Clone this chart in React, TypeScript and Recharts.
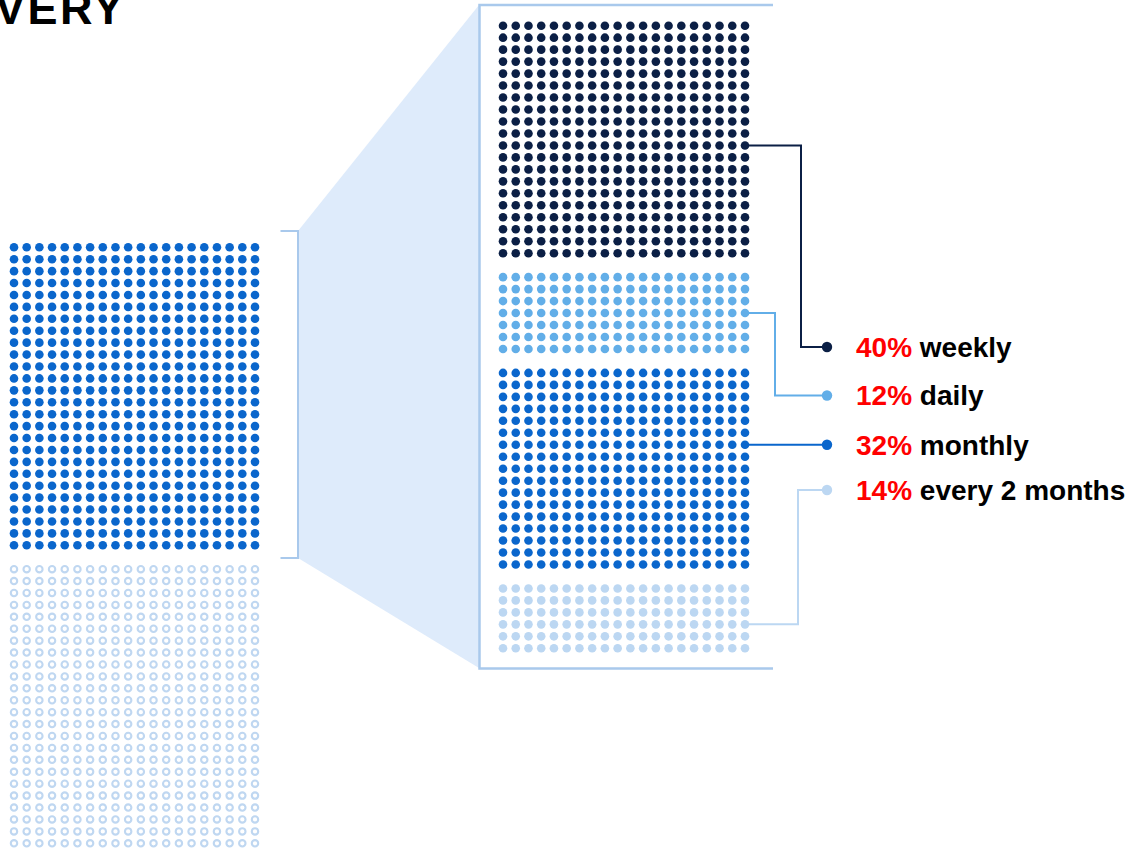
import React from 'react';
import { ScatterChart, Scatter, XAxis, YAxis } from 'recharts';

// ---------- data ----------
const COLS = 20; // dots per row in both grids

// overview grid (left): highlighted block, then remaining block
const overviewGroups = ['highlighted', 'rest'];
const overviewRows = [26, 24];

// zoomed grid (right)
const frequencies = ['weekly', 'daily', 'monthly', 'every 2 months'];
const shares = [40, 12, 32, 14];
const frequencyRows = [20, 7, 17, 6];
const connectorRow = [10, 3, 6, 3];

// ---------- style / layout ----------
const W = 1130;
const H = 852;
const FREQ_COLORS = ['#0b1f45', '#62aee8', '#0a66cc', '#bcd7f2'];
const OVERVIEW_FILL = '#0a66cc';
const OVERVIEW_RING = '#bfd7f1';
const FRAME = '#a9c9ec';
const ZOOM_FILL = '#deebfb';
const LEGEND_X = 827;
const LEGEND_Y = [347, 395.5, 444, 490];
const ELBOW_DX = [56, 30, 0, 53];
const TEXT_X = 856;
const FONT = '"Liberation Sans", Arial, Helvetica, sans-serif';

type Dot = { col: number; row: number; g: number };

function buildGrid(rowsPerGroup: number[]) {
  const groups: Dot[][] = [];
  const starts: number[] = [];
  let slot = 0;
  rowsPerGroup.forEach((rows, g) => {
    starts.push(slot);
    const pts: Dot[] = [];
    for (let r = 0; r < rows; r++) {
      for (let c = 0; c < COLS; c++) pts.push({ col: c, row: slot + r, g });
    }
    groups.push(pts);
    slot += rows + 1; // one blank row between groups
  });
  return { groups, starts, lastRow: slot - 2 };
}

const overview = buildGrid(overviewRows);
const zoomed = buildGrid(frequencyRows);

const anchors = frequencies.map((f, i) => ({
  col: COLS - 1,
  row: zoomed.starts[i] + connectorRow[i],
  g: i,
  label: f,
  share: shares[i],
}));

const Connector = (p: any) => {
  const i = p.payload.g;
  const color = FREQ_COLORS[i];
  const ly = LEGEND_Y[i];
  const d =
    ELBOW_DX[i] > 0
      ? `M${p.cx},${p.cy} H${p.cx + ELBOW_DX[i]} V${ly} H${LEGEND_X}`
      : `M${p.cx},${p.cy} H${LEGEND_X}`;
  const dotY = ELBOW_DX[i] > 0 ? ly : p.cy;
  return (
    <g>
      <path d={d} fill="none" stroke={color} strokeWidth={2} />
      <circle cx={LEGEND_X} cy={dotY} r={5.2} fill={color} />
      <text
        x={TEXT_X}
        y={dotY + 9.8}
        fontFamily={FONT}
        fontWeight="bold"
        fontSize={28}
        style={{ whiteSpace: 'pre' }}
      >
        <tspan fill="#ff0000">{`${p.payload.share}%`}</tspan>
        <tspan fill="#000000">{` ${p.payload.label}`}</tspan>
      </text>
    </g>
  );
};

const filledDot = (color: string, r: number) => (p: any) =>
  <circle cx={p.cx} cy={p.cy} r={r} fill={color} />;
const ringDot = (color: string) => (p: any) =>
  <circle cx={p.cx} cy={p.cy} r={3.2} fill="none" stroke={color} strokeWidth={2.1} />;

export default function App() {
  return (
    <div
      style={{
        position: 'absolute',
        left: 0,
        top: 0,
        width: W,
        height: H,
        background: '#ffffff',
        overflow: 'hidden',
      }}
    >
      {/* decoration: zoom wedge, bracket, frame, title */}
      <svg width={W} height={H} style={{ position: 'absolute', left: 0, top: 0 }}>
        <polygon points="298,231 479,5 479,668 298,558" fill={ZOOM_FILL} />
        <path d="M280.5,231 H298 V558 H280.5" fill="none" stroke={FRAME} strokeWidth={2} />
        <path d="M773,5 H479.5 V668.5 H773" fill="none" stroke={FRAME} strokeWidth={2.5} />
        <text
          x={-5}
          y={24}
          fontFamily={FONT}
          fontWeight="bold"
          fontSize={45}
          letterSpacing={2.5}
          fill="#000"
        >
          VERY
        </text>
      </svg>

      {/* overview grid */}
      <div style={{ position: 'absolute', left: 0, top: 0 }}>
        <ScatterChart
          width={W}
          height={H}
          margin={{ left: 14, right: W - 255, top: 247.3, bottom: H - 843.3 }}
        >
          <XAxis type="number" dataKey="col" domain={[0, COLS - 1]} hide />
          <YAxis type="number" dataKey="row" domain={[0, overview.lastRow]} reversed hide />
          <Scatter
            name={overviewGroups[0]}
            data={overview.groups[0]}
            shape={filledDot(OVERVIEW_FILL, 4.3)}
            isAnimationActive={false}
          />
          <Scatter
            name={overviewGroups[1]}
            data={overview.groups[1]}
            shape={ringDot(OVERVIEW_RING)}
            isAnimationActive={false}
          />
        </ScatterChart>
      </div>

      {/* zoomed grid with connectors and labels */}
      <div style={{ position: 'absolute', left: 0, top: 0 }}>
        <ScatterChart
          width={W}
          height={H}
          margin={{ left: 503, right: W - 745, top: 25.7, bottom: H - 648.3 }}
        >
          <XAxis type="number" dataKey="col" domain={[0, COLS - 1]} hide />
          <YAxis type="number" dataKey="row" domain={[0, zoomed.lastRow]} reversed hide />
          <Scatter data={anchors} shape={Connector} isAnimationActive={false} />
          {frequencies.map((f, i) => (
            <Scatter
              key={f}
              name={f}
              data={zoomed.groups[i]}
              shape={filledDot(FREQ_COLORS[i], 4.3)}
              isAnimationActive={false}
            />
          ))}
        </ScatterChart>
      </div>
    </div>
  );
}
